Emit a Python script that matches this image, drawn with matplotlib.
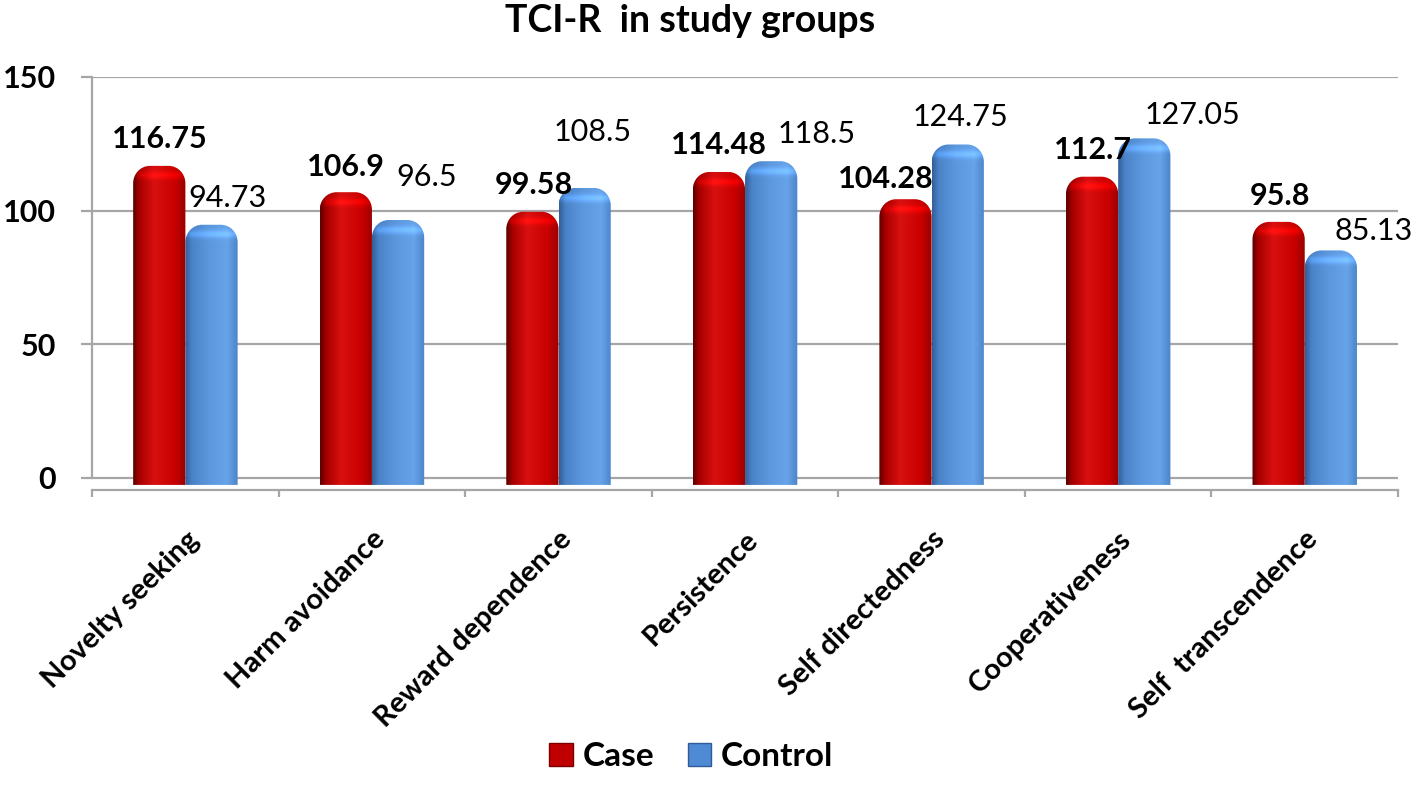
import matplotlib
matplotlib.use("Agg")
import matplotlib.pyplot as plt
import numpy as np
from matplotlib.path import Path
from matplotlib.patches import PathPatch, Patch
from matplotlib.colors import to_rgb

plt.rcParams['font.family'] = ['Lato', 'DejaVu Sans']

# data
categories = ["Novelty seeking", "Harm avoidance", "Reward dependence", "Persistence",
              "Self directedness", "Cooperativeness", "Self  transcendence"]
case_values = [116.75, 106.9, 99.58, 114.48, 104.28, 112.7, 95.8]
control_values = [94.73, 96.5, 108.5, 118.5, 124.75, 127.05, 85.13]
y_ticks = [0, 50, 100, 150]

# hand-placed label nudges (pixels) as in the original
case_nudge = [(1, 27), (0, 25), (1, 27), (0, 27), (-20, 20), (1, 27), (1, 26)]
control_nudge = [(16, 27), (29, 43), (8, 56), (45, 27), (3, 27), (48, 23), (43, 19)]

red_stops = [(0, '#5e0000'), (0.12, '#a80000'), (0.4, '#d81010'), (0.8, '#c80000'), (1, '#9a0000')]
blue_stops = [(0, '#325f98'), (0.12, '#4a82c6'), (0.45, '#5c97dd'), (0.8, '#67a3e8'), (1, '#4c84c8')]

fig = plt.figure(figsize=(14.17, 7.97), dpi=100)
ax = fig.add_axes([0.065, 0.3852, 0.9216, 0.5182])

x = np.arange(len(categories))
w = 0.28
case_bars = ax.bar(x - w / 2, case_values, w, color='none', zorder=3)
control_bars = ax.bar(x + w / 2, control_values, w, color='none', zorder=3)


def shade(bar, stops):
    # rounded-top bar with a horizontal cylinder-like gradient
    x0 = bar.get_x()
    x1 = x0 + bar.get_width()
    y0, y1 = -2.6, bar.get_height()
    rx, ry = 0.09, 6.5
    k = 0.5523
    verts = [(x0, y0), (x0, y1 - ry), (x0, y1 - ry + k * ry), (x0 + rx - k * rx, y1), (x0 + rx, y1),
             (x1 - rx, y1), (x1 - rx + k * rx, y1), (x1, y1 - ry + k * ry), (x1, y1 - ry),
             (x1, y0), (x0, y0)]
    codes = [Path.MOVETO, Path.LINETO, Path.CURVE4, Path.CURVE4, Path.CURVE4, Path.LINETO,
             Path.CURVE4, Path.CURVE4, Path.CURVE4, Path.LINETO, Path.CLOSEPOLY]
    patch = PathPatch(Path(verts, codes), facecolor='none', edgecolor='none', zorder=3)
    ax.add_patch(patch)
    pos = [s[0] for s in stops]
    cols = np.array([to_rgb(s[1]) for s in stops])
    t = np.linspace(0, 1, 64)
    row = np.stack([np.interp(t, pos, cols[:, c]) for c in range(3)], axis=-1)
    ys = np.linspace(y1, y0, 300)
    glow = 1 + 0.22 * np.exp(-((ys - (y1 - ry * 0.55)) / (ry * 0.22)) ** 2)
    img = np.clip(row[None, :, :] * glow[:, None, None], 0, 1)
    im = ax.imshow(img, extent=[x0, x1, y0, y1], aspect='auto', zorder=3,
                   interpolation='bilinear')
    im.set_clip_path(patch)


for b in case_bars:
    shade(b, red_stops)
for b in control_bars:
    shade(b, blue_stops)

for i in range(len(categories)):
    ax.annotate(f"{case_values[i]:g}", (x[i] - w / 2, case_values[i]), xytext=case_nudge[i],
                textcoords='offset pixels', ha='center', va='center',
                fontsize=22, fontweight='bold', zorder=5, annotation_clip=False)
    ax.annotate(f"{control_values[i]:g}", (x[i] + w / 2, control_values[i]), xytext=control_nudge[i],
                textcoords='offset pixels', ha='center', va='center',
                fontsize=22, zorder=5, annotation_clip=False)

grey = '#a6a6a6'
ax.set_xlim(-0.5, 6.5)
ax.set_ylim(-4.5, 150)
ax.set_yticks(y_ticks)
ax.yaxis.grid(True, color=grey, lw=1.6)
ax.set_axisbelow(True)
for s in ['top', 'right']:
    ax.spines[s].set_visible(False)
ax.spines['left'].set_bounds(0, 150)
ax.spines['left'].set_color(grey)
ax.spines['left'].set_linewidth(1.6)
ax.spines['bottom'].set_color(grey)
ax.spines['bottom'].set_linewidth(1.6)
ax.tick_params(axis='y', length=8, width=1.6, color=grey, pad=18, labelsize=22)
for lab in ax.get_yticklabels():
    lab.set_fontweight('bold')

ax.set_xticks(x)
ax.set_xticklabels(categories, rotation=45, ha='right', rotation_mode='anchor',
                   fontsize=21, fontweight='bold')
ax.tick_params(axis='x', length=0, pad=26)
ax.set_xticks(np.arange(-0.5, 7, 1), minor=True)
ax.tick_params(axis='x', which='minor', length=5, width=1.6, color=grey)

handles = [Patch(facecolor='#c00000', edgecolor='#7a0000'),
           Patch(facecolor='#4f8ad4', edgecolor='#2e5c96')]
fig.legend(handles, ['Case', 'Control'], loc='lower center', bbox_to_anchor=(0.488, -0.005),
           ncol=2, frameon=False, prop={'size': 24, 'weight': 'bold'},
           handlelength=0.7, handleheight=0.7, handletextpad=0.3, columnspacing=1.0)

fig.text(0.487, 0.974, "TCI-R  in study groups", ha='center', va='center',
         fontsize=27, fontweight='bold')

fig.savefig('out.png', dpi=100)
